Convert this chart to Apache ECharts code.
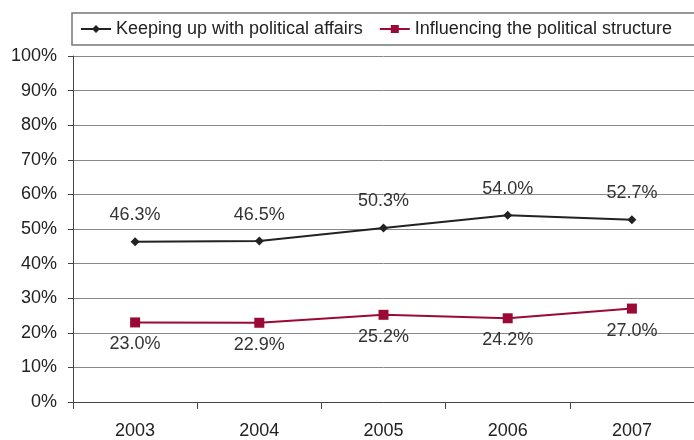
<!DOCTYPE html>
<html>
<head>
    <meta charset="utf-8">
    <title>Political affairs</title>
    <script src="https://cdn.jsdelivr.net/npm/echarts@6/dist/echarts.min.js"></script>
    <style>
        body { margin: 0; background: #fff; }
        #chart1 { width: 694px; height: 440px; }
    </style>
</head>
<body>
<div id="chart1"></div>
<script type="text/javascript">
    // data
    var years = ['2003', '2004', '2005', '2006', '2007'];
    var keepingUp = [46.3, 46.5, 50.3, 54.0, 52.7];
    var influencing = [23.0, 22.9, 25.2, 24.2, 27.0];
    var seriesNames = ['Keeping up with political affairs', 'Influencing the political structure'];

    var myChart1 = echarts.init(document.getElementById('chart1'));
    var font = 'Liberation Sans, Arial, sans-serif';

    myChart1.setOption({
        animation: false,
        textStyle: { fontFamily: font },
        legend: {
            data: seriesNames,
            left: 72,
            top: 13,
            width: 660,
            padding: [7, 30, 7, 8],
            itemWidth: 30,
            itemHeight: 10,
            itemGap: 16,
            borderColor: '#777',
            borderWidth: 1.5,
            textStyle: { fontSize: 18, color: '#222', fontFamily: font }
        },
        grid: { left: 73, right: -8, top: 56, bottom: 36 },
        xAxis: {
            type: 'category',
            data: years,
            boundaryGap: true,
            axisLine: { lineStyle: { color: '#444', width: 1 } },
            axisTick: { show: true, length: 7, lineStyle: { color: '#444' } },
            axisLabel: { fontSize: 18, color: '#222', margin: 20, fontFamily: font }
        },
        yAxis: {
            type: 'value',
            min: 0,
            max: 100,
            interval: 10,
            axisLine: { show: true, lineStyle: { color: '#444', width: 1 } },
            axisTick: { show: true, length: 5, lineStyle: { color: '#444' } },
            axisLabel: { fontSize: 18, color: '#222', margin: 16, formatter: '{value}%', fontFamily: font },
            splitLine: { lineStyle: { color: '#888', width: 1 } }
        },
        series: [{
            name: seriesNames[0],
            type: 'line',
            data: keepingUp,
            symbol: 'diamond',
            symbolSize: 9,
            color: '#222',
            lineStyle: { width: 2, color: '#222' },
            label: {
                show: true, position: 'top', distance: 13,
                fontSize: 18, color: '#333', fontFamily: font,
                formatter: function (p) { return p.value.toFixed(1) + '%'; }
            }
        }, {
            name: seriesNames[1],
            type: 'line',
            data: influencing,
            symbol: 'rect',
            symbolSize: 10,
            color: '#9b0a35',
            lineStyle: { width: 2, color: '#9b0a35' },
            label: {
                show: true, position: 'bottom', distance: 8,
                fontSize: 18, color: '#333', fontFamily: font,
                formatter: function (p) { return p.value.toFixed(1) + '%'; }
            }
        }]
    });
</script>
</body>
</html>
